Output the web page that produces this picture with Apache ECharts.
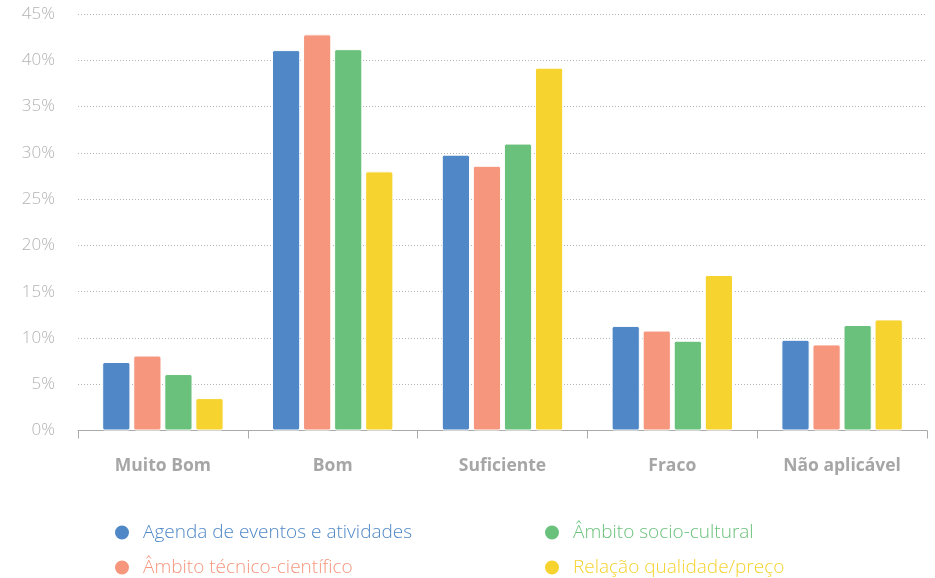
<!DOCTYPE html>
<html>
<head>
<meta charset="utf-8">
<script src="https://cdn.jsdelivr.net/npm/echarts@6/dist/echarts.min.js"></script>
<style>
html,body{margin:0;padding:0;background:#fff;}
#chart{width:935px;height:578px;}
</style>
</head>
<body>
<div id="chart"></div>
<script>
var categories = ['Muito Bom', 'Bom', 'Suficiente', 'Fraco', 'Não aplicável'];
var seriesNames = ['Agenda de eventos e atividades', 'Âmbito técnico-científico', 'Âmbito socio-cultural', 'Relação qualidade/preço'];
var agenda = [7.4, 41.1, 29.8, 11.3, 9.8];
var tecnico = [8.1, 42.8, 28.6, 10.8, 9.3];
var socio = [6.1, 41.2, 31.0, 9.7, 11.4];
var relacao = [3.5, 28.0, 39.2, 16.8, 12.0];
var colors = ['#5088C7', '#F5967D', '#6AC17B', '#F6D32E'];
var values = [agenda, tecnico, socio, relacao];

var chart = echarts.init(document.getElementById('chart'));
var font = '"Open Sans", Lato, sans-serif';

var series = seriesNames.map(function (n, i) {
  return {
    name: n,
    type: 'bar',
    data: values[i],
    barGap: '10%',
    barCategoryGap: '28.5%',
    itemStyle: { color: colors[i], borderRadius: 2, borderColor: '#fff', borderWidth: 1 }
  };
});

var legendPos = [[113, 523], [113, 558], [543, 523], [543, 558]];
var legends = seriesNames.map(function (n, i) {
  return {
    left: legendPos[i][0],
    top: legendPos[i][1],
    padding: 0,
    icon: 'circle',
    itemWidth: 16,
    itemHeight: 16,
    data: [{ name: n, textStyle: { color: colors[i] } }],
    textStyle: { fontFamily: font, fontSize: 19, fontWeight: 300, lineHeight: 16, padding: [0, 0, 0, 8] }
  };
});

chart.setOption({
  animation: false,
  color: colors,
  grid: { left: 78, right: 8, top: 14, bottom: 147.5 },
  legend: legends,
  xAxis: {
    type: 'category',
    data: categories,
    axisLine: { lineStyle: { color: '#aaaaaa', width: 1 } },
    axisTick: { show: true, length: 8, lineStyle: { color: '#aaaaaa' } },
    axisLabel: { color: '#a6a6a6', fontFamily: font, fontSize: 17.5, fontWeight: 'bold', margin: 27 }
  },
  yAxis: {
    type: 'value',
    min: 0,
    max: 45,
    interval: 5,
    axisLine: { show: false },
    axisTick: { show: false },
    axisLabel: { formatter: '{value}%', color: '#b3b3b3', fontFamily: font, fontSize: 17, fontWeight: 300, margin: 23 },
    splitLine: { lineStyle: { color: '#b5b5b5', type: [1, 2], width: 1 } }
  },
  series: series
});
</script>
</body>
</html>
